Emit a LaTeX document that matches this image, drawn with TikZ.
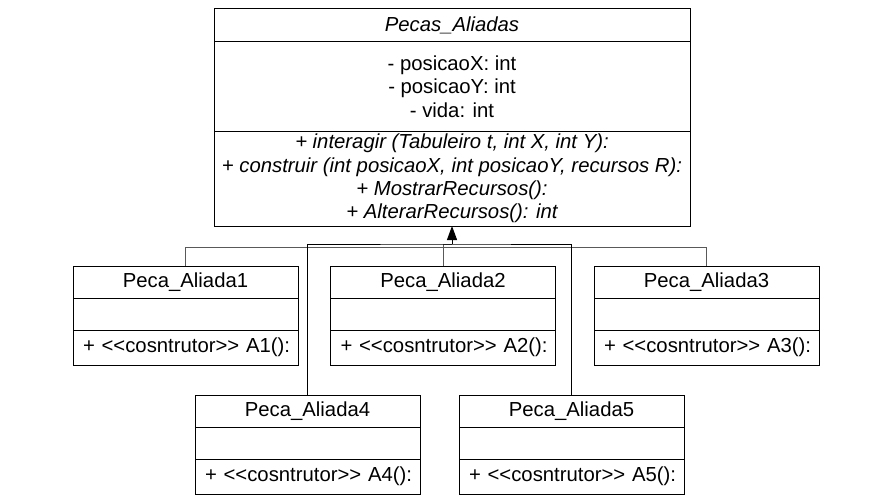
\documentclass[tikz,border=0pt]{standalone}
\usepackage{fontspec}
\setmainfont{Liberation Sans}
\usetikzlibrary{positioning,arrows.meta}
\newcommand{\cons}[1]{\mbox{+ <\kern0pt<cosntrutor>\kern0pt> #1}}

\begin{document}
\begin{tikzpicture}[x=1pt,y=-1pt,
   font=\fontsize{20.3}{23.5}\selectfont,
   part/.style={draw,line width=1pt,minimum width=225pt,inner sep=0pt,outer sep=0pt},
   head/.style={part,minimum height=32pt},
   empty/.style={part,minimum height=32pt},
   meth/.style={part,minimum height=35pt,text width=205pt,align=left},
   big/.style={draw,line width=1pt,minimum width=476pt,inner sep=0pt,outer sep=0pt,align=center},
   link/.style={line width=1pt,draw=black!65}]
   \useasboundingbox (0,0) rectangle (890,500);
   % superclass
   \node (pt) at (452,25.5) [big,minimum height=33pt] {\itshape Pecas\_Aliadas};
   \node (pa) [big,minimum height=89pt,below=0pt of pt] {- posicaoX: int\\- posicaoY: int\\- vida: int};
   \node (pm) [big,minimum height=95pt,below=0pt of pa,font=\fontsize{20.3}{23.4}\selectfont\itshape]
      {+ interagir (Tabuleiro t, int X, int Y):\\+ construir (int posicaoX, int posicaoY, recursos R):\\+ MostrarRecursos():\\+ AlterarRecursos(): int};
   % subclasses
   \node (a1t) at (185.5,282) [head] {Peca\_Aliada1};
   \node (a1e) [empty,below=0pt of a1t] {};
   \node (a1m) [meth,below=0pt of a1e] {\cons{A1():}};
   \node (a2t) at (443,282) [head] {Peca\_Aliada2};
   \node (a2e) [empty,below=0pt of a2t] {};
   \node (a2m) [meth,below=0pt of a2e] {\cons{A2():}};
   \node (a3t) at (706.5,282) [head] {Peca\_Aliada3};
   \node (a3e) [empty,below=0pt of a3t] {};
   \node (a3m) [meth,below=0pt of a3e] {\cons{A3():}};
   \node (a4t) at (307.5,411) [head] {Peca\_Aliada4};
   \node (a4e) [empty,below=0pt of a4t] {};
   \node (a4m) [meth,below=0pt of a4e] {\cons{A4():}};
   \node (a5t) at (571.5,411) [head] {Peca\_Aliada5};
   \node (a5e) [empty,below=0pt of a5t] {};
   \node (a5m) [meth,below=0pt of a5e] {\cons{A5():}};
   % generalisation
   \coordinate (hub) at (452,244);
   \draw[link] (a1t.north) -- ++(0,-19) -| (a3t.north);
   \draw[link] (a2t.north) -- ++(0,-22) -| (hub);
   \draw[line width=1pt] (a4t.north) |- (hub) -| (a5t.north);
   \draw[line width=1pt,-{Triangle[length=14pt,width=10pt]}] (hub) -- (hub |- pm.south);
\end{tikzpicture}
\end{document}
